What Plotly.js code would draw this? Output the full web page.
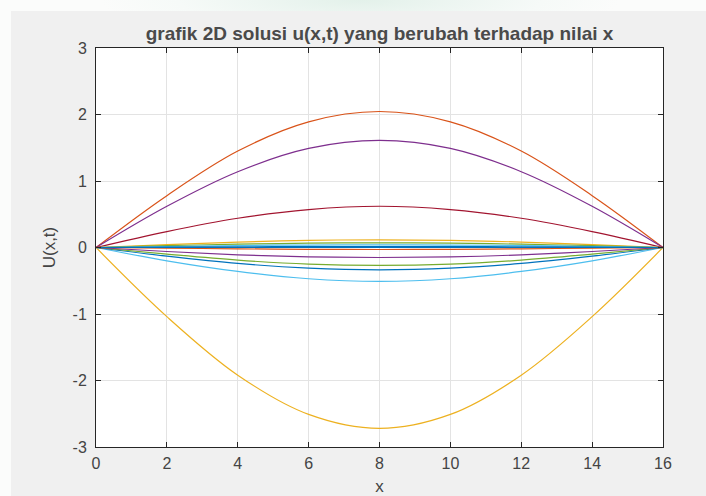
<!DOCTYPE html>
<html>
<head>
<meta charset="utf-8">
<script src="https://cdn.plot.ly/plotly-3.0.1.min.js"></script>
<style>
  html, body { margin: 0; padding: 0; width: 706px; height: 496px; overflow: hidden;
    background: radial-gradient(ellipse 260px 40px at 360px 0px, #e3f1ea 0%, #f6faf8 70%, #fbfcfb 100%); }
  #chart { position: absolute; left: 11px; top: 11px; width: 695px; height: 485px; }
</style>
</head>
<body>
<div id="chart"></div>
<script>
// x positions where values were read
const xs = [0, 2, 4, 6, 8, 10, 12, 14, 16];

// curves, in drawing order
const uYellowBig  = [0, -1.04, -1.92, -2.51, -2.72, -2.51, -1.92, -1.04, 0];
const uOrange     = [0, 0.78, 1.45, 1.89, 2.045, 1.89, 1.45, 0.78, 0];
const uPurpleBig  = [0, 0.62, 1.14, 1.49, 1.61, 1.49, 1.14, 0.62, 0];
const uDarkRed    = [0, 0.24, 0.44, 0.57, 0.62, 0.57, 0.44, 0.24, 0];
const uLightBlue1 = [0, -0.20, -0.36, -0.47, -0.51, -0.47, -0.36, -0.20, 0];
const uBlue1      = [0, -0.13, -0.24, -0.31, -0.335, -0.31, -0.24, -0.13, 0];
const uGreen1     = [0, -0.10, -0.19, -0.25, -0.27, -0.25, -0.19, -0.10, 0];
const uPurple2    = [0, -0.06, -0.11, -0.14, -0.15, -0.14, -0.11, -0.06, 0];
const uYellow2    = [0, 0.044, 0.082, 0.107, 0.116, 0.107, 0.082, 0.044, 0];
const uGreen2     = [0, 0.027, 0.05, 0.065, 0.07, 0.065, 0.05, 0.027, 0];
const uLightBlue2 = [0, 0.015, 0.03, 0.037, 0.04, 0.037, 0.03, 0.015, 0];
const uBlue2      = [0, 0.006, 0.01, 0.014, 0.015, 0.014, 0.01, 0.006, 0];
const uBlue3      = [0, 0, 0, 0, 0, 0, 0, 0, 0];
const uRed2       = [0, -0.01, -0.02, -0.028, -0.03, -0.028, -0.02, -0.01, 0];

const series = [
  [uYellowBig,  '#EDB120'],
  [uOrange,     '#D95319'],
  [uPurpleBig,  '#7E2F8E'],
  [uDarkRed,    '#A2142F'],
  [uLightBlue1, '#4DBEEE'],
  [uBlue1,      '#0072BD'],
  [uGreen1,     '#77AC30'],
  [uPurple2,    '#7E2F8E'],
  [uYellow2,    '#EDB120'],
  [uGreen2,     '#77AC30'],
  [uLightBlue2, '#4DBEEE'],
  [uBlue2,      '#0072BD'],
  [uRed2,       '#D95319'],
  [uBlue3,      '#0072BD']
];

const xTicks = [0, 2, 4, 6, 8, 10, 12, 14, 16];
const yTicks = [-3, -2, -1, 0, 1, 2, 3];

const traces = series.map(([ys, c]) => ({
  x: xs, y: ys, type: 'scatter', mode: 'lines',
  line: { color: c, width: 1.2, shape: 'spline', smoothing: 1 },
  hoverinfo: 'skip', showlegend: false
}));

const FONT = 'Liberation Sans, Arial, sans-serif';
const axisCommon = {
  showline: true, linecolor: '#262626', linewidth: 1, mirror: 'ticks',
  ticks: 'inside', ticklen: 5, tickcolor: '#262626', tickwidth: 1,
  showgrid: true, gridcolor: '#e3e3e3', gridwidth: 1, zeroline: false,
  tickfont: { family: FONT, size: 16, color: '#444444' }
};

const layout = {
  width: 695, height: 485,
  margin: { l: 85, r: 43, t: 37, b: 49 },
  paper_bgcolor: '#f0f0f0', plot_bgcolor: '#ffffff',
  title: { text: '<b>grafik 2D solusi u(x,t) yang berubah terhadap nilai x</b>',
    font: { family: FONT, size: 19, color: '#4a4a4a' },
    x: 0.5, xanchor: 'center', xref: 'paper', y: 1, yref: 'paper', yanchor: 'bottom', pad: { b: 8 } },
  xaxis: Object.assign({}, axisCommon, {
    range: [0, 16], tickvals: xTicks, ticktext: xTicks.map(String), ticklabelstandoff: 2,
    title: { text: 'x', standoff: 8, font: { family: FONT, size: 17, color: '#444444' } }
  }),
  yaxis: Object.assign({}, axisCommon, {
    range: [-3, 3], tickvals: yTicks, ticktext: yTicks.map(String), ticklabelstandoff: 5,
    title: { text: 'U(x,t)', standoff: 12, font: { family: FONT, size: 17, color: '#444444' } }
  })
};

Plotly.newPlot('chart', traces, layout, { displayModeBar: false, staticPlot: true });
</script>
</body>
</html>
